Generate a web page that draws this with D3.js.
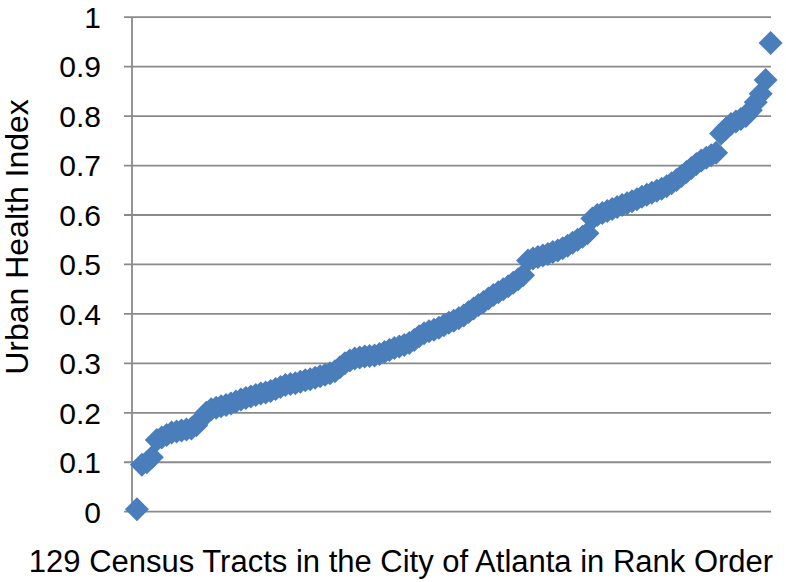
<!DOCTYPE html>
<html><head><meta charset="utf-8">
<script src="https://cdn.jsdelivr.net/npm/d3@7"></script>
<style>body{margin:0;background:#fff}svg{display:block}text{font-family:"Liberation Sans",Arial,sans-serif;fill:#000}</style>
</head><body><svg id="c" width="786" height="582"></svg>
<script>
const values = [0.005,0.095,0.100,0.110,0.145,0.150,0.155,0.160,0.162,0.164,
0.166,0.168,0.175,0.188,0.200,0.207,0.210,0.213,0.216,0.219,
0.223,0.227,0.230,0.233,0.236,0.239,0.241,0.244,0.248,0.252,
0.256,0.258,0.260,0.263,0.266,0.268,0.271,0.274,0.277,0.280,
0.284,0.292,0.300,0.306,0.310,0.312,0.314,0.315,0.316,0.319,
0.323,0.327,0.331,0.334,0.337,0.341,0.347,0.355,0.361,0.365,
0.368,0.372,0.377,0.382,0.386,0.391,0.397,0.404,0.411,0.418,
0.424,0.431,0.438,0.444,0.450,0.456,0.463,0.470,0.478,0.508,
0.512,0.515,0.518,0.521,0.525,0.528,0.533,0.538,0.544,0.550,
0.556,0.563,0.593,0.600,0.604,0.608,0.612,0.616,0.620,0.624,
0.628,0.632,0.637,0.641,0.645,0.649,0.653,0.658,0.664,0.671,
0.679,0.687,0.695,0.703,0.710,0.716,0.721,0.726,0.765,0.775,
0.784,0.789,0.794,0.800,0.812,0.828,0.845,0.873,0.948];
const ranks = values.map((v,i)=>i+1);
const yTicks = [0,0.1,0.2,0.3,0.4,0.5,0.6,0.7,0.8,0.9,1];
const yTitle = "Urban Health Index";
const xTitle = "129 Census Tracts in the City of Atlanta in Rank Order";

const svg = d3.select("#c");
const x = d3.scaleLinear().domain([0,129]).range([132,770.6]);
const y = d3.scaleLinear().domain([0,1]).range([511.7,17.2]);

svg.append("g").selectAll("line").data(yTicks).join("line")
  .attr("x1",124).attr("x2",771).attr("y1",d=>y(d)).attr("y2",d=>y(d))
  .attr("stroke","#8a8a8a").attr("stroke-width",1.8);
svg.append("line").attr("x1",132).attr("x2",132).attr("y1",y(1)).attr("y2",y(0))
  .attr("stroke","#8a8a8a").attr("stroke-width",1.8);
svg.append("g").selectAll("text").data(yTicks).join("text")
  .attr("x",101).attr("y",d=>y(d)).attr("dy","0.36em").attr("text-anchor","end")
  .attr("font-size",30).text(d=>d3.format("")(d));
svg.append("g").selectAll("path").data(values).join("path")
  .attr("transform",(d,i)=>`translate(${x(ranks[i])},${y(d)})`)
  .attr("d","M0,-12L12,0L0,12L-12,0Z").attr("fill","#4a7ebb");
svg.append("text").attr("transform","translate(28,237) rotate(-90)")
  .attr("text-anchor","middle").attr("font-size",32).text(yTitle);
svg.append("text").attr("x",401).attr("y",572).attr("text-anchor","middle")
  .attr("font-size",31).text(xTitle);
</script></body></html>
